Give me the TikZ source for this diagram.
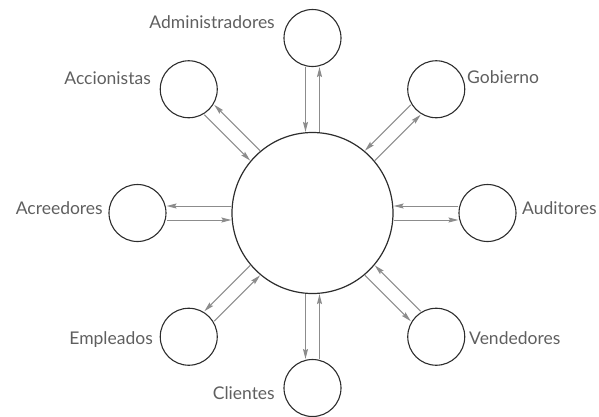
\documentclass[tikz,border=0pt]{standalone}
\usepackage{fontspec}
\setmainfont{Lato}
\usetikzlibrary{arrows.meta}
\definecolor{ringc}{RGB}{45,45,45}
\definecolor{flowc}{RGB}{140,140,140}
\definecolor{txtc}{RGB}{95,95,95}
\begin{document}
\begin{tikzpicture}[x=1pt,y=1pt,
  hub/.style={circle,draw=ringc,line width=1.2pt,minimum size=161pt,inner sep=0pt},
  party/.style={circle,draw=ringc,line width=1.1pt,minimum size=57pt,inner sep=0pt},
  flow/.style={draw=flowc,line width=1pt,-{Stealth[length=10pt,width=5pt,inset=1.5pt]}},
  lbl/.style={text=txtc,font=\fontsize{17.5}{20}\selectfont,inner sep=0pt}]
\useasboundingbox (-312.5,-203) rectangle (286.5,213);
\node[hub] (c) at (0,0) {};
\foreach \n/\a in {adm/90,gob/45,aud/0,ven/-45,cli/-90,emp/-135,acr/180,acc/135}{
  \node[party] (\n) at (\a:175) {};
  \draw[flow, transform canvas={shift={(\a+90:7)}}] (\n) -- (c);
  \draw[flow, transform canvas={shift={(\a-90:7)}}] (c) -- (\n);
}
\node[lbl,anchor=base east] (tadm) at (-37.5,185) {Administradores};
\node[lbl,anchor=base east] (tacc) at (-161.5,129) {Accionistas};
\node[lbl,anchor=base west] (tgob) at (154.5,130) {Gobierno};
\node[lbl,anchor=base west] (taud) at (209.5,-1) {Auditores};
\node[lbl,anchor=base west] (tven) at (156.5,-131) {Vendedores};
\node[lbl,anchor=base east] (tcli) at (-37.5,-186) {Clientes};
\node[lbl,anchor=base east] (temp) at (-159.5,-131) {Empleados};
\node[lbl,anchor=base east] (tacr) at (-209.5,-1) {Acreedores};
\end{tikzpicture}
\end{document}
